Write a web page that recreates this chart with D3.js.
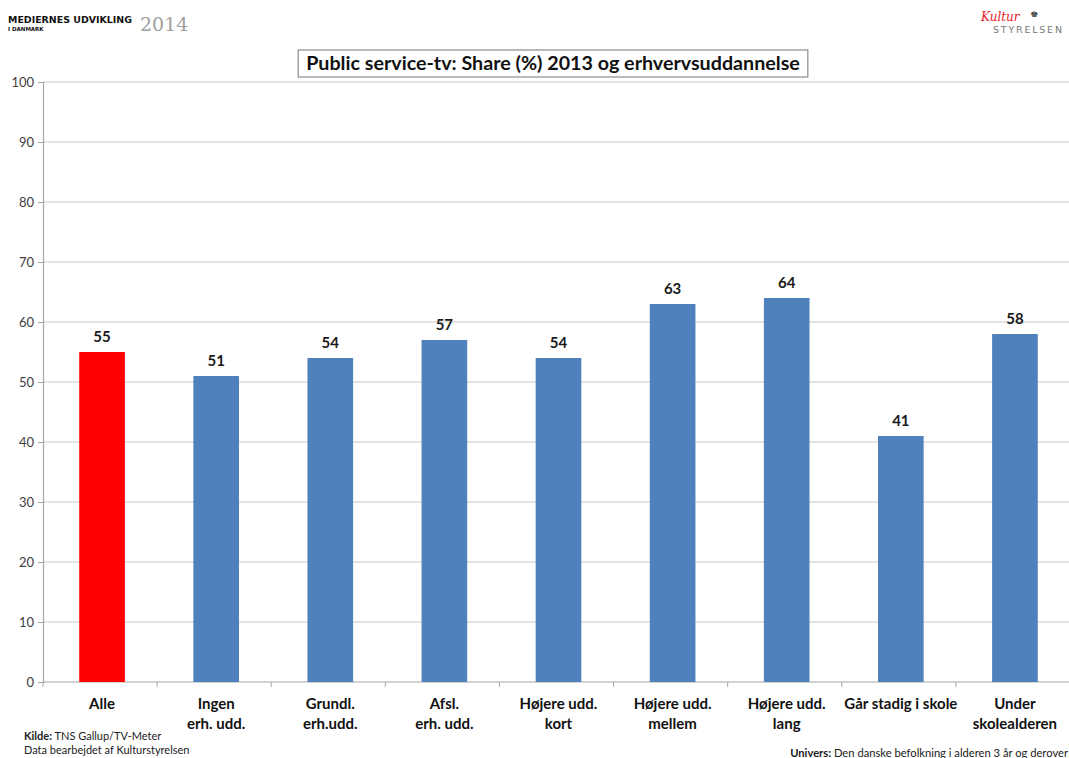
<!DOCTYPE html>
<html>
<head>
<meta charset="utf-8">
<script src="https://cdn.jsdelivr.net/npm/d3@7"></script>
<style>
  html, body { margin: 0; padding: 0; background: #fff; }
  svg { display: block; }
</style>
</head>
<body>
<svg id="chart" width="1069" height="758"></svg>
<script>
// Public service-tv share 2013 by education group
const categories = [
  ["Alle"],
  ["Ingen", "erh. udd."],
  ["Grundl.", "erh.udd."],
  ["Afsl.", "erh. udd."],
  ["Højere udd.", "kort"],
  ["Højere udd.", "mellem"],
  ["Højere udd.", "lang"],
  ["Går stadig i skole"],
  ["Under", "skolealderen"]
];
const shareValues = [55, 51, 54, 57, 54, 63, 64, 41, 58];
const yTicks = [0, 10, 20, 30, 40, 50, 60, 70, 80, 90, 100];

const svg = d3.select("#chart");
const font = "Lato, 'Open Sans', sans-serif";

const plot = { left: 43, right: 1070, top: 82, bottom: 682 };

const x = d3.scaleBand()
  .domain(d3.range(categories.length))
  .range([plot.left + 2, plot.right + 2])
  .paddingInner(0.6)
  .paddingOuter(0.3);

const xBoundary = d3.scaleLinear()
  .domain([0, categories.length])
  .range([plot.left, plot.right]);

const y = d3.scaleLinear().domain([0, 100]).range([plot.bottom, plot.top]);

// gridlines
svg.append("g")
  .selectAll("line")
  .data(yTicks.filter(t => t > 0))
  .join("line")
  .attr("x1", plot.left)
  .attr("x2", plot.right)
  .attr("y1", d => y(d))
  .attr("y2", d => y(d))
  .attr("stroke", "#c8c8c8")
  .attr("stroke-width", 1.2);

// y axis
const yAxis = svg.append("g")
  .attr("transform", `translate(${plot.left},0)`)
  .call(d3.axisLeft(y).tickValues(yTicks).tickSize(5).tickPadding(4));
yAxis.select(".domain").attr("stroke", "#a6a6a6").attr("stroke-width", 1.2);
yAxis.selectAll(".tick line").attr("stroke", "#a6a6a6");
yAxis.selectAll("text")
  .attr("font-family", font)
  .attr("font-size", 13)
  .attr("fill", "#404040");

// x axis baseline and boundary ticks
svg.append("line")
  .attr("x1", plot.left).attr("x2", plot.right)
  .attr("y1", plot.bottom).attr("y2", plot.bottom)
  .attr("stroke", "#a6a6a6").attr("stroke-width", 1.2);
svg.append("g")
  .selectAll("line")
  .data(d3.range(categories.length + 1))
  .join("line")
  .attr("x1", d => xBoundary(d)).attr("x2", d => xBoundary(d))
  .attr("y1", plot.bottom).attr("y2", plot.bottom + 5)
  .attr("stroke", "#a6a6a6");

// bars
svg.append("g")
  .selectAll("rect")
  .data(shareValues)
  .join("rect")
  .attr("x", (d, i) => x(i))
  .attr("width", x.bandwidth())
  .attr("y", d => y(d))
  .attr("height", d => y(0) - y(d))
  .attr("fill", (d, i) => i === 0 ? "#ff0000" : "#4f81bd");

// value labels
svg.append("g")
  .selectAll("text")
  .data(shareValues)
  .join("text")
  .attr("x", (d, i) => x(i) + x.bandwidth() / 2)
  .attr("y", d => y(d) - 10)
  .attr("text-anchor", "middle")
  .attr("font-family", font)
  .attr("font-weight", "bold")
  .attr("font-size", 15)
  .attr("fill", "#1a1a1a")
  .text(d => d);

// category labels
const catG = svg.append("g");
categories.forEach((lines, i) => {
  const t = catG.append("text")
    .attr("x", x(i) + x.bandwidth() / 2)
    .attr("y", 709)
    .attr("text-anchor", "middle")
    .attr("font-family", font)
    .attr("font-weight", "bold")
    .attr("font-size", 15)
    .attr("fill", "#111");
  lines.forEach((ln, j) => {
    t.append("tspan")
      .attr("x", x(i) + x.bandwidth() / 2)
      .attr("dy", j === 0 ? 0 : 20)
      .text(ln);
  });
});

// title box
const titleG = svg.append("g");
const titleBox = titleG.append("rect");
const title = titleG.append("text")
  .attr("x", 553)
  .attr("y", 70)
  .attr("text-anchor", "middle")
  .attr("font-family", font)
  .attr("font-weight", "bold")
  .attr("font-size", 19.7)
  .attr("fill", "#111")
  .text("Public service-tv: Share (%) 2013 og erhvervsuddannelse");
const tb = title.node().getBBox();
titleBox
  .attr("x", tb.x - 8)
  .attr("y", 50)
  .attr("width", tb.width + 16)
  .attr("height", 27)
  .attr("fill", "#fff")
  .attr("stroke", "#8c8c8c")
  .attr("stroke-width", 1.2);

// header
svg.append("text")
  .attr("x", 8).attr("y", 23)
  .attr("font-family", "'DejaVu Sans', sans-serif")
  .attr("font-weight", "bold")
  .attr("font-size", 9.5)
  .attr("textLength", 124)
  .attr("lengthAdjust", "spacingAndGlyphs")
  .attr("fill", "#111")
  .text("MEDIERNES UDVIKLING");
svg.append("text")
  .attr("x", 8).attr("y", 31)
  .attr("font-family", "'DejaVu Sans', sans-serif")
  .attr("font-weight", "bold")
  .attr("font-size", 5.5)
  .attr("fill", "#111")
  .text("I DANMARK");
svg.append("text")
  .attr("x", 140).attr("y", 31)
  .attr("font-family", "'DejaVu Serif', 'Liberation Serif', serif")
  .attr("font-size", 19)
  .attr("fill", "#a0a0a0")
  .text("2014");

// logo
svg.append("text")
  .attr("x", 981).attr("y", 21)
  .attr("font-family", "'DejaVu Serif', serif")
  .attr("font-style", "italic")
  .attr("font-size", 12)
  .attr("fill", "#e8202a")
  .text("Kultur");
svg.append("text")
  .attr("x", 1030).attr("y", 17)
  .attr("font-family", "'DejaVu Sans', sans-serif")
  .attr("font-size", 9)
  .attr("fill", "#333")
  .text("♚");
svg.append("text")
  .attr("x", 993).attr("y", 33)
  .attr("font-family", "'DejaVu Sans', sans-serif")
  .attr("font-size", 9.5)
  .attr("textLength", 69)
  .attr("fill", "#777")
  .text("STYRELSEN");

// footer notes
const src = svg.append("text")
  .attr("x", 24).attr("y", 740)
  .attr("font-family", font)
  .attr("font-size", 11)
  .attr("fill", "#222");
src.append("tspan").attr("font-weight", "bold").text("Kilde:");
src.append("tspan").text(" TNS Gallup/TV-Meter");
svg.append("text")
  .attr("x", 24).attr("y", 754)
  .attr("font-family", font)
  .attr("font-size", 11)
  .attr("fill", "#222")
  .text("Data bearbejdet af Kulturstyrelsen");
const uni = svg.append("text")
  .attr("x", 1068).attr("y", 757)
  .attr("text-anchor", "end")
  .attr("font-family", font)
  .attr("font-size", 11.2)
  .attr("fill", "#222");
uni.append("tspan").attr("font-weight", "bold").text("Univers:");
uni.append("tspan").text("  Den danske befolkning i alderen 3 år og derover");
</script>
</body>
</html>
